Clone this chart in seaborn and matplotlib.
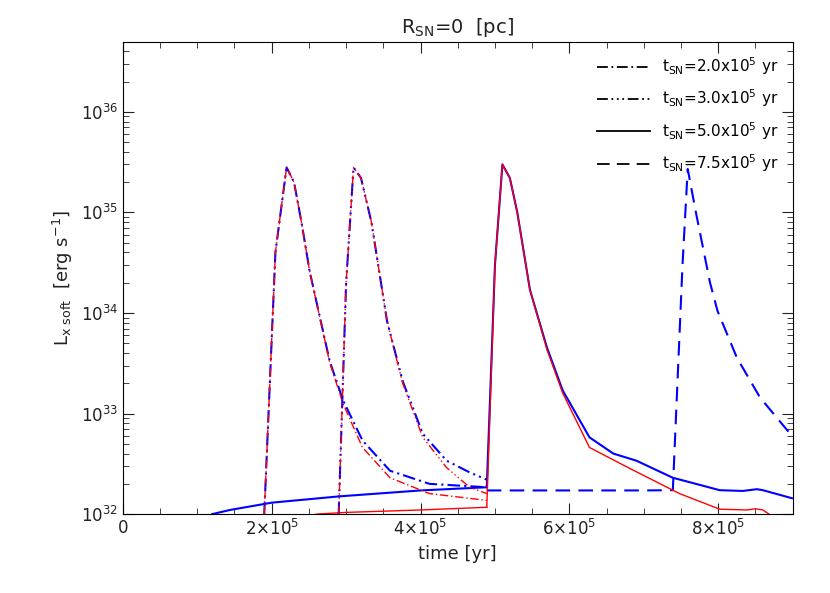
import numpy as np
import matplotlib
matplotlib.use("Agg")
import matplotlib.pyplot as plt
import seaborn as sns
from matplotlib.lines import Line2D

# baseline (pre-SN) curves
base_t = [1.2e5, 1.44e5, 2.0e5, 2.9e5, 4.0e5, 4.89e5]
base_blue = [1.0e32, 1.1e32, 1.3e32, 1.5e32, 1.72e32, 1.85e32]
base_t_red = [2.6e5, 3.0e5, 4.0e5, 4.89e5]
base_red = [1.0e32, 1.04e32, 1.1e32, 1.17e32]

# tSN = 2e5
t2 = [1.9e5, 2.05e5, 2.2e5, 2.3e5, 2.4e5, 2.51e5, 2.78e5, 2.96e5, 3.22e5, 3.59e5, 4.12e5, 4.89e5]
b2 = [1.0e32, 4e34, 2.8e35, 2.0e35, 8e34, 2.6e34, 3.3e33, 1.35e33, 5.4e32, 2.7e32, 2.0e32, 1.85e32]
r2 = [1.0e32, 4e34, 2.8e35, 2.0e35, 8e34, 2.6e34, 3.2e33, 1.25e33, 4.6e32, 2.3e32, 1.6e32, 1.37e32]

# tSN = 3e5
t3 = [2.9e5, 3.0e5, 3.1e5, 3.2e5, 3.34e5, 3.55e5, 3.76e5, 4.03e5, 4.35e5, 4.66e5, 4.89e5]
b3 = [1.0e32, 2e34, 2.8e35, 2.2e35, 8e34, 8.3e33, 2.1e33, 6.3e32, 3.4e32, 2.6e32, 2.2e32]
r3 = [1.0e32, 2e34, 2.8e35, 2.2e35, 8e34, 8.3e33, 2.0e33, 5.8e32, 2.9e32, 1.85e32, 1.6e32]

# tSN = 5e5
t5 = [4.89e5, 5.0e5, 5.1e5, 5.2e5, 5.3e5, 5.47e5, 5.7e5, 5.91e5, 6.27e5, 6.59e5, 6.9e5,
      7.39e5, 8.02e5, 8.33e5, 8.52e5, 8.6e5, 8.99e5]
b5 = [1.85e32, 3e34, 3.0e35, 2.2e35, 1.0e35, 1.7e34, 4.5e33, 1.7e33, 5.8e32, 4.0e32, 3.4e32,
      2.3e32, 1.73e32, 1.7e32, 1.77e32, 1.73e32, 1.44e32]
t5r = [4.89e5, 5.0e5, 5.1e5, 5.2e5, 5.3e5, 5.47e5, 5.7e5, 5.91e5, 6.27e5, 6.81e5, 7.48e5,
       8.02e5, 8.38e5, 8.5e5, 8.6e5, 8.7e5]
r5 = [1.17e32, 3e34, 3.0e35, 2.2e35, 1.0e35, 1.7e34, 4.3e33, 1.6e33, 4.6e32, 2.85e32, 1.6e32,
      1.12e32, 1.1e32, 1.13e32, 1.1e32, 0.98e32]

# tSN = 7.5e5
t75 = [4.89e5, 6.0e5, 7.0e5, 7.39e5, 7.52e5, 7.59e5, 7.7e5, 7.89e5, 7.99e5, 8.25e5, 8.56e5, 8.99e5]
b75 = [1.72e32, 1.72e32, 1.72e32, 1.73e32, 3e34, 2.7e35, 1.0e35, 2e34, 1.05e34, 3.6e33, 1.45e33, 6e32]

labels = [r"t$_{\rm SN}$=2.0x10$^5$ yr", r"t$_{\rm SN}$=3.0x10$^5$ yr",
          r"t$_{\rm SN}$=5.0x10$^5$ yr", r"t$_{\rm SN}$=7.5x10$^5$ yr"]

plt.rcParams["font.family"] = "DejaVu Sans"
fig, ax = plt.subplots(figsize=(8.3, 5.93), dpi=100)
fig.subplots_adjust(left=0.148, right=0.955, top=0.93, bottom=0.133)

dd = (0, (6, 2, 1, 2))
ddd = (0, (6, 2, 1, 2, 1, 2, 1, 2))
ds = (0, (7, 4))

def draw(x, y, c, ls="-"):
    sns.lineplot(x=x, y=y, color=c, lw=1.5 if c == "blue" else 1.0, ax=ax)
    ax.lines[-1].set_linestyle(ls)

draw(base_t_red, base_red, "red")
draw(base_t, base_blue, "blue")
draw(t2, b2, "blue", dd)
draw(t2, r2, "red", dd)
draw(t3, b3, "blue", ddd)
draw(t3, r3, "red", ddd)
draw(t75, b75, "blue", ds)
draw(t5, b5, "blue")
draw(t5r, r5, "red")

ax.set_yscale("log")
ax.set_xlim(0, 9e5)
ax.set_ylim(1e32, 5e36)
ax.set_xticks([0, 2e5, 4e5, 6e5, 8e5])
ax.set_xticklabels(["0", r"2$\times$10$^5$", r"4$\times$10$^5$", r"6$\times$10$^5$", r"8$\times$10$^5$"])
ax.set_xticks(np.arange(0, 9.1e5, 0.5e5), minor=True)
ax.tick_params(which="both", direction="in", top=True, right=True, labelsize=12, colors="#222222")
ax.tick_params(which="major", length=8)
ax.tick_params(which="minor", length=4)
ax.set_xlabel("time [yr]", fontsize=13, color="#222222")
ax.set_ylabel(r"L$_{\rm x\ soft}$  [erg s$^{-1}$]", fontsize=13, color="#222222")
ax.set_title(r"R$_{\rm SN}$=0  [pc]", fontsize=14, color="#222222")

handles = [Line2D([], [], color="black", lw=1.3, linestyle=s) for s in [dd, ddd, "-", ds]]
ax.legend(handles, labels, loc="upper right", frameon=False, fontsize=11,
          handlelength=3.5, labelspacing=0.7)
fig.savefig("out.png")
